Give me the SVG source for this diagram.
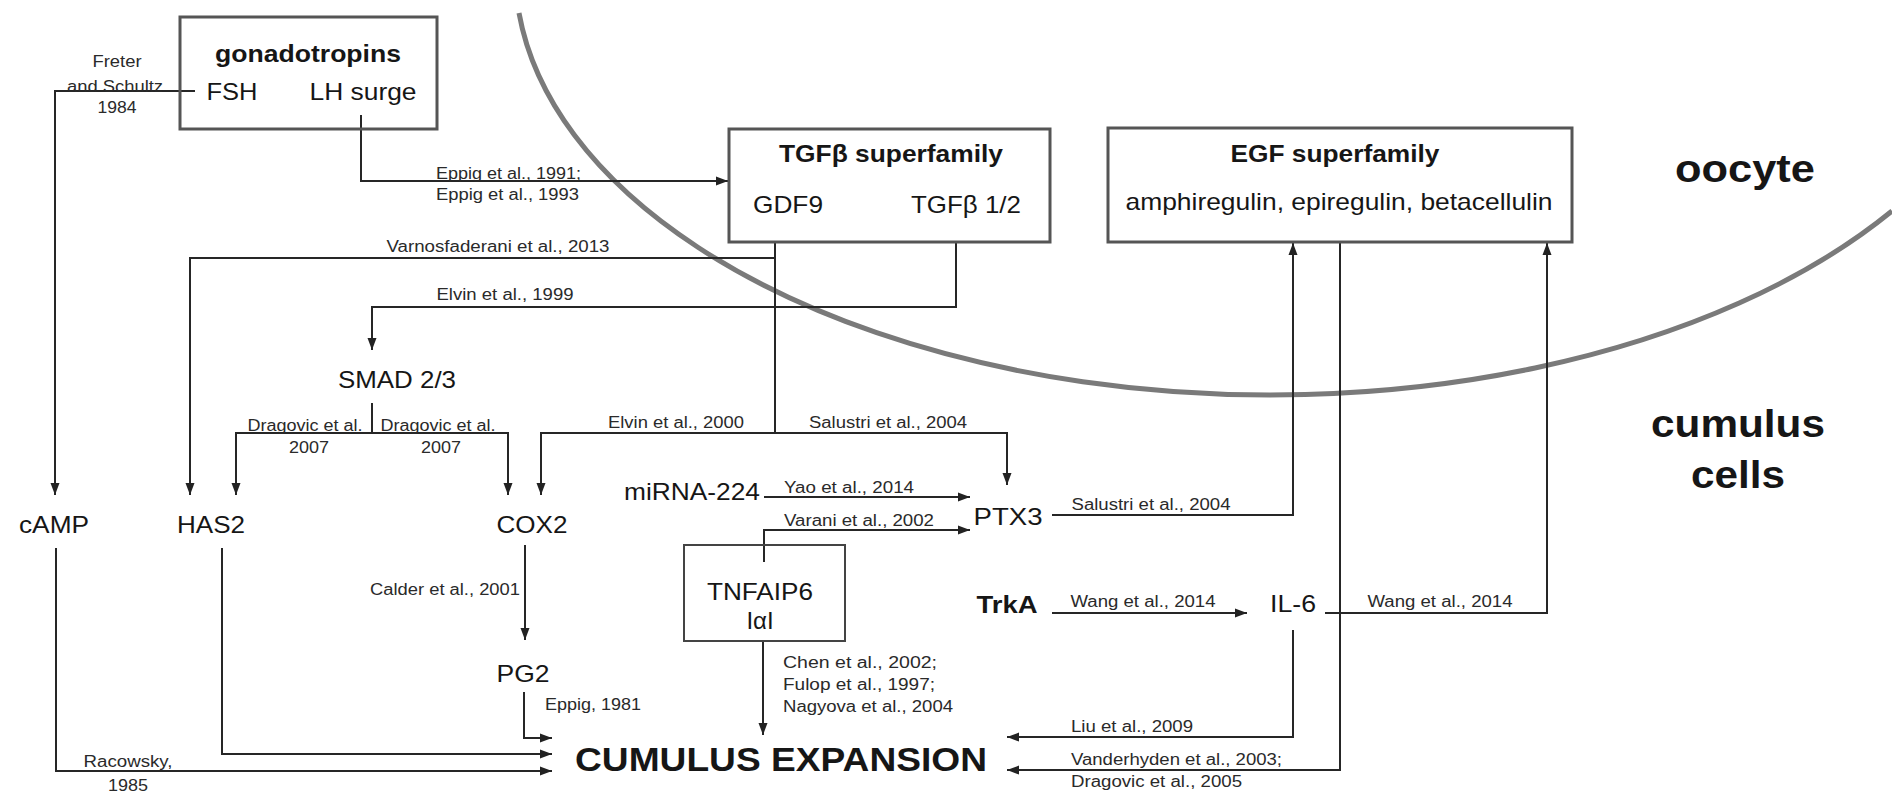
<svg xmlns="http://www.w3.org/2000/svg" width="1892" height="799" viewBox="0 0 1892 799">
<style>
text{font-family:"Liberation Sans",Arial,Helvetica,sans-serif;fill:#161616}
.m{font-size:24px}
.b{font-size:24px;font-weight:bold}
.c{font-size:16px;fill:#2a2a2a}
.big{font-size:38px;font-weight:bold}
.ce{font-size:33px;font-weight:bold}
.mid{text-anchor:middle}
.box{fill:none;stroke:#555;stroke-width:3}
.tbox{fill:none;stroke:#444;stroke-width:2}
.ln{fill:none;stroke:#262626;stroke-width:2}
.lna{fill:none;stroke:#262626;stroke-width:2;marker-end:url(#ah)}
</style>
<defs>
<marker id="ah" markerUnits="userSpaceOnUse" markerWidth="14" markerHeight="10" refX="12" refY="5" orient="auto">
<path d="M0,0.5 L12,5 L0,9.5 z" fill="#222"/>
</marker>
</defs>
<rect width="1892" height="799" fill="#fff"/>
<path id="oocyte-membrane" d="M519,13 A755,425 0 0 0 1892,211" fill="none" stroke="#7a7a7a" stroke-width="5"/>
<g id="connectors">
<path class="lna" d="M195,91 H55 V495"/>
<path class="lna" d="M361,115 V181 H728"/>
<path class="lna" d="M775,258 H190 V495"/>
<path class="ln" d="M775,242 V433"/>
<path class="lna" d="M775,433 H541 V495"/>
<path class="lna" d="M775,433 H1007 V485"/>
<path class="lna" d="M956,242 V307 H372 V350"/>
<path class="ln" d="M372,403 V433"/>
<path class="lna" d="M372,433 H236 V495"/>
<path class="lna" d="M372,433 H508 V495"/>
<path class="lna" d="M56,548 V771 H552"/>
<path class="lna" d="M222,548 V754 H552"/>
<path class="lna" d="M525,545 V640"/>
<path class="lna" d="M524,692 V738 H552"/>
<path class="lna" d="M764,497 H970"/>
<path class="lna" d="M764,562 V530 H970"/>
<path class="lna" d="M763,641 V735"/>
<path class="lna" d="M1052,515 H1293 V243"/>
<path class="lna" d="M1340,242 V770 H1007"/>
<path class="lna" d="M1052,613 H1247"/>
<path class="lna" d="M1325,613 H1547 V243"/>
<path class="lna" d="M1293,630 V737 H1007"/>
</g>
<g id="labels">
<text class="c mid" x="117" y="67" textLength="49" lengthAdjust="spacingAndGlyphs">Freter</text>
<text class="c mid" x="115" y="92" textLength="96" lengthAdjust="spacingAndGlyphs">and Schultz</text>
<text class="c mid" x="117" y="113" textLength="39" lengthAdjust="spacingAndGlyphs">1984</text>
<text class="c" x="436" y="179" textLength="145" lengthAdjust="spacingAndGlyphs">Eppig et al., 1991;</text>
<text class="c" x="436" y="200" textLength="143" lengthAdjust="spacingAndGlyphs">Eppig et al., 1993</text>
<text class="c mid" x="498" y="252" textLength="223" lengthAdjust="spacingAndGlyphs">Varnosfaderani et al., 2013</text>
<text class="c mid" x="505" y="300" textLength="137" lengthAdjust="spacingAndGlyphs">Elvin et al., 1999</text>
<text class="c mid" x="305" y="431" textLength="115" lengthAdjust="spacingAndGlyphs">Dragovic et al.</text>
<text class="c mid" x="309" y="453" textLength="40" lengthAdjust="spacingAndGlyphs">2007</text>
<text class="c mid" x="438" y="431" textLength="115" lengthAdjust="spacingAndGlyphs">Dragovic et al.</text>
<text class="c mid" x="441" y="453" textLength="40" lengthAdjust="spacingAndGlyphs">2007</text>
<text class="c mid" x="676" y="428" textLength="136" lengthAdjust="spacingAndGlyphs">Elvin et al., 2000</text>
<text class="c mid" x="888" y="428" textLength="158" lengthAdjust="spacingAndGlyphs">Salustri et al., 2004</text>
<text class="c mid" x="849" y="493" textLength="130" lengthAdjust="spacingAndGlyphs">Yao et al., 2014</text>
<text class="c mid" x="859" y="526" textLength="150" lengthAdjust="spacingAndGlyphs">Varani et al., 2002</text>
<text class="c mid" x="1151" y="510" textLength="159" lengthAdjust="spacingAndGlyphs">Salustri et al., 2004</text>
<text class="c mid" x="1143" y="607" textLength="145" lengthAdjust="spacingAndGlyphs">Wang et al., 2014</text>
<text class="c mid" x="1440" y="607" textLength="145" lengthAdjust="spacingAndGlyphs">Wang et al., 2014</text>
<text class="c mid" x="445" y="595" textLength="150" lengthAdjust="spacingAndGlyphs">Calder et al., 2001</text>
<text class="c mid" x="593" y="710" textLength="96" lengthAdjust="spacingAndGlyphs">Eppig, 1981</text>
<text class="c" x="783" y="668" textLength="154" lengthAdjust="spacingAndGlyphs">Chen et al., 2002;</text>
<text class="c" x="783" y="690" textLength="152" lengthAdjust="spacingAndGlyphs">Fulop et al., 1997;</text>
<text class="c" x="783" y="712" textLength="170" lengthAdjust="spacingAndGlyphs">Nagyova et al., 2004</text>
<text class="c" x="1071" y="732" textLength="122" lengthAdjust="spacingAndGlyphs">Liu et al., 2009</text>
<text class="c" x="1071" y="765" textLength="211" lengthAdjust="spacingAndGlyphs">Vanderhyden et al., 2003;</text>
<text class="c" x="1071" y="787" textLength="171" lengthAdjust="spacingAndGlyphs">Dragovic et al., 2005</text>
<text class="c mid" x="128" y="767" textLength="89" lengthAdjust="spacingAndGlyphs">Racowsky,</text>
<text class="c mid" x="128" y="791" textLength="40" lengthAdjust="spacingAndGlyphs">1985</text>
</g>
<g id="gonadotropins">
<rect class="box" x="180" y="17" width="257" height="112"/>
<text class="b mid" x="308" y="62" textLength="186" lengthAdjust="spacingAndGlyphs">gonadotropins</text>
<text class="m mid" x="232" y="100" textLength="51" lengthAdjust="spacingAndGlyphs">FSH</text>
<text class="m mid" x="363" y="100" textLength="107" lengthAdjust="spacingAndGlyphs">LH surge</text>
</g>
<g id="tgfb">
<rect class="box" x="729" y="129" width="321" height="113"/>
<text class="b mid" x="891" y="162" textLength="224" lengthAdjust="spacingAndGlyphs">TGFβ superfamily</text>
<text class="m mid" x="788" y="213" textLength="70" lengthAdjust="spacingAndGlyphs">GDF9</text>
<text class="m mid" x="966" y="213" textLength="110" lengthAdjust="spacingAndGlyphs">TGFβ 1/2</text>
</g>
<g id="egf">
<rect class="box" x="1108" y="128" width="464" height="114"/>
<text class="b mid" x="1335" y="162" textLength="209" lengthAdjust="spacingAndGlyphs">EGF superfamily</text>
<text class="m mid" x="1339" y="210" textLength="427" lengthAdjust="spacingAndGlyphs">amphiregulin, epiregulin, betacellulin</text>
</g>
<g id="oocyte"><text class="big mid" x="1745" y="182" textLength="140" lengthAdjust="spacingAndGlyphs">oocyte</text></g>
<g id="cumulus-cells">
<text class="big mid" x="1738" y="437" textLength="174" lengthAdjust="spacingAndGlyphs">cumulus</text>
<text class="big mid" x="1738" y="488" textLength="94" lengthAdjust="spacingAndGlyphs">cells</text>
</g>
<g id="smad"><text class="m mid" x="397" y="388" textLength="118" lengthAdjust="spacingAndGlyphs">SMAD 2/3</text></g>
<g id="camp"><text class="m mid" x="54" y="533" textLength="70" lengthAdjust="spacingAndGlyphs">cAMP</text></g>
<g id="has2"><text class="m mid" x="211" y="533" textLength="68" lengthAdjust="spacingAndGlyphs">HAS2</text></g>
<g id="cox2"><text class="m mid" x="532" y="533" textLength="71" lengthAdjust="spacingAndGlyphs">COX2</text></g>
<g id="mirna"><text class="m mid" x="692" y="500" textLength="136" lengthAdjust="spacingAndGlyphs">miRNA-224</text></g>
<g id="ptx3"><text class="m mid" x="1008" y="525" textLength="69" lengthAdjust="spacingAndGlyphs">PTX3</text></g>
<g id="tnfaip6">
<rect class="tbox" x="684" y="545" width="161" height="96"/>
<text class="m mid" x="760" y="600" textLength="106" lengthAdjust="spacingAndGlyphs">TNFAIP6</text>
<text class="m mid" x="760" y="629">IαI</text>
</g>
<g id="trka"><text class="b mid" x="1007" y="613" textLength="61" lengthAdjust="spacingAndGlyphs">TrkA</text></g>
<g id="il6"><text class="m mid" x="1293" y="612" textLength="46" lengthAdjust="spacingAndGlyphs">IL-6</text></g>
<g id="pg2"><text class="m mid" x="523" y="682" textLength="53" lengthAdjust="spacingAndGlyphs">PG2</text></g>
<g id="cumulus-expansion"><text class="ce" x="575" y="771" textLength="412" lengthAdjust="spacingAndGlyphs">CUMULUS EXPANSION</text></g>
</svg>
